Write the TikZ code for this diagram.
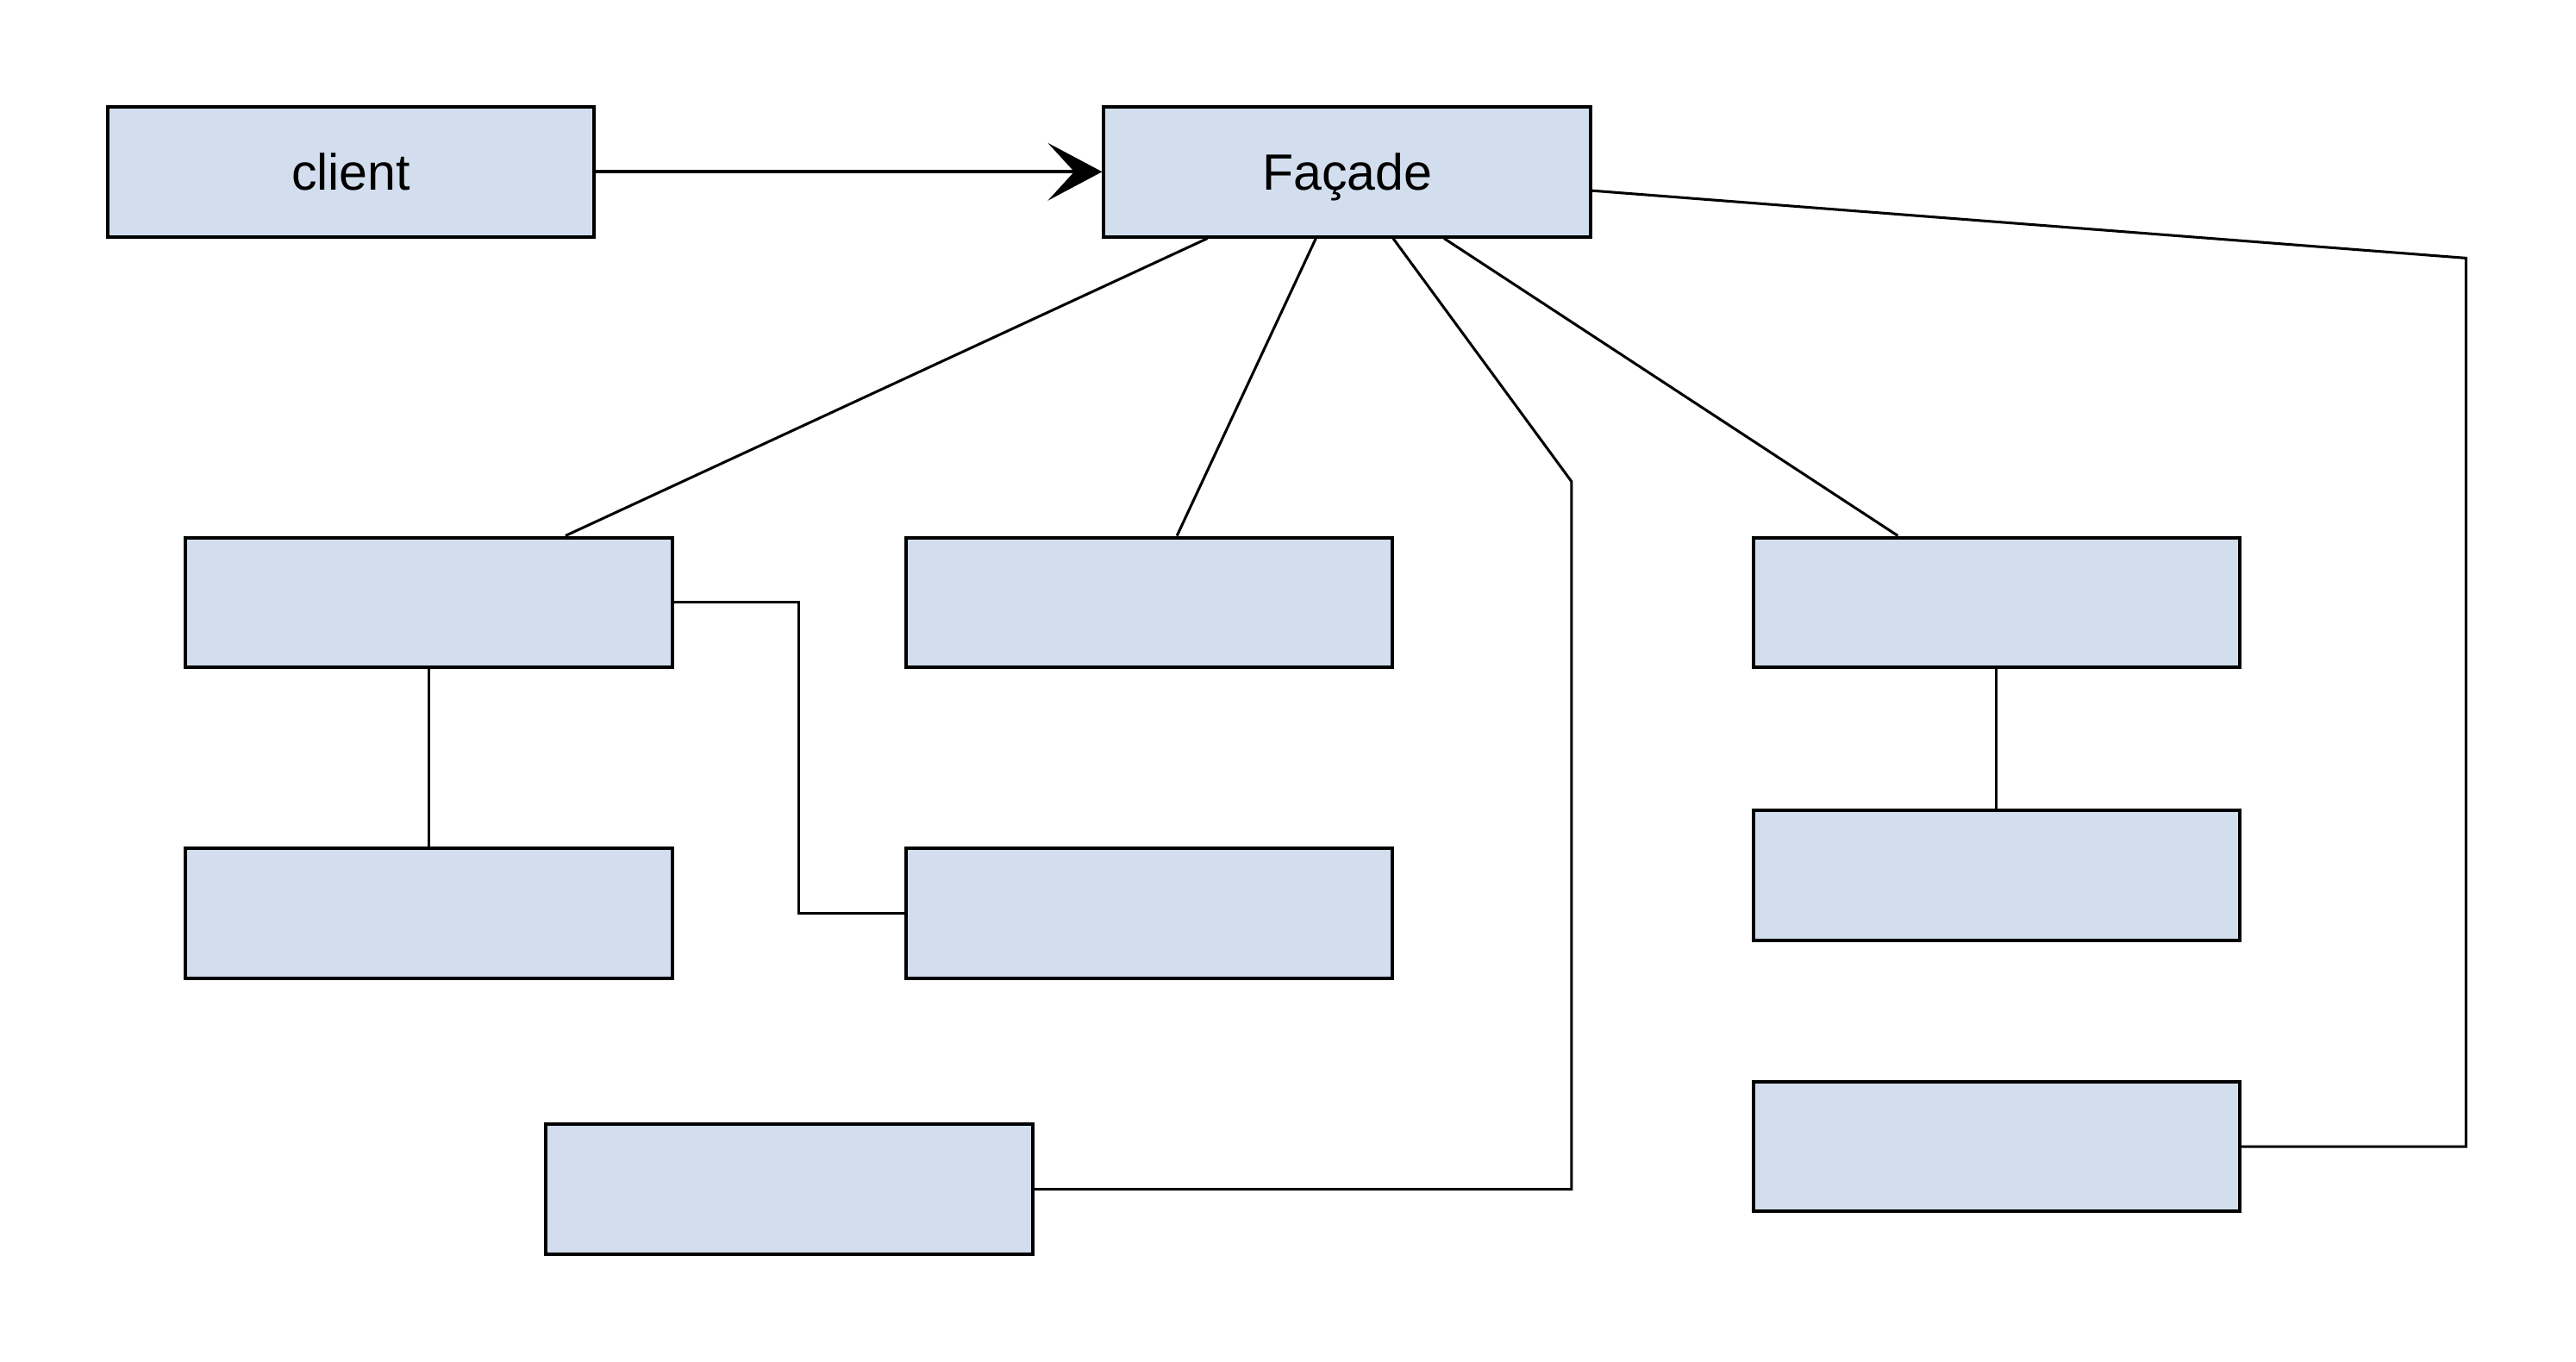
\documentclass[tikz,border=0pt]{standalone}
\usepackage{fontspec}
\setmainfont{Liberation Sans}
\usetikzlibrary{calc,arrows.meta}

\newlength{\du}
\setlength{\du}{0.5pt}
\definecolor{boxfill}{RGB}{210,222,237}

\tikzset{
  classbox/.style={draw=black, fill=boxfill, line width=1.05pt,
    minimum width=296\du, minimum height=79\du, inner sep=0pt, text depth=0pt,
    font=\fontsize{15.5}{18}\selectfont},
  assoc/.style={draw=black, line width=0.8pt},
  uses/.style={draw=black, line width=1pt, -{Stealth[length=16.5pt,width=17.5pt,inset=8pt]}}
}

\begin{document}
\begin{tikzpicture}[x=\du,y=-\du]
\useasboundingbox (0,0) rectangle (1567,828.6);
% top row
\node[classbox] (client) at (213.5,104.5) {client};
\node[classbox] (facade) at (819.5,104.5) {Façade};
% subsystem classes
\node[classbox] (sysa) at (261,366.5) {};
\node[classbox] (sysb) at (699,366.5) {};
\node[classbox] (sysc) at (1214.5,366.5) {};
\node[classbox] (sysd) at (261,555.5) {};
\node[classbox] (syse) at (699,555.5) {};
\node[classbox] (sysf) at (1214.5,532.5) {};
\node[classbox] (sysg) at (480,723.5) {};
\node[classbox] (sysh) at (1214.5,697.5) {};
% bend points
\coordinate (bendg) at (956,293);
\coordinate (bendh) at (1500,157);
% client uses facade
\draw[uses] (client.east) -- (facade.west);
% facade to subsystem
\draw[assoc] ($(facade.south west)+(64,0)$) -- ($(sysa.north west)+(232,0)$);
\draw[assoc] ($(facade.south west)+(130,0)$) -- ($(sysb.north west)+(166,0)$);
\draw[assoc] ($(facade.south west)+(177,0)$) -- (bendg) |- (sysg.east);
\draw[assoc] ($(facade.south west)+(208,0)$) -- ($(sysc.north west)+(89,0)$);
\draw[assoc] ($(facade.east)+(0,11.5)$) -- (bendh) |- (sysh.east);
% inside subsystem
\draw[assoc] (sysa.east) -- ++(76,0) |- (syse.west);
\draw[assoc] (sysa.south) -- (sysd.north);
\draw[assoc] (sysc.south) -- (sysf.north);
\end{tikzpicture}
\end{document}
